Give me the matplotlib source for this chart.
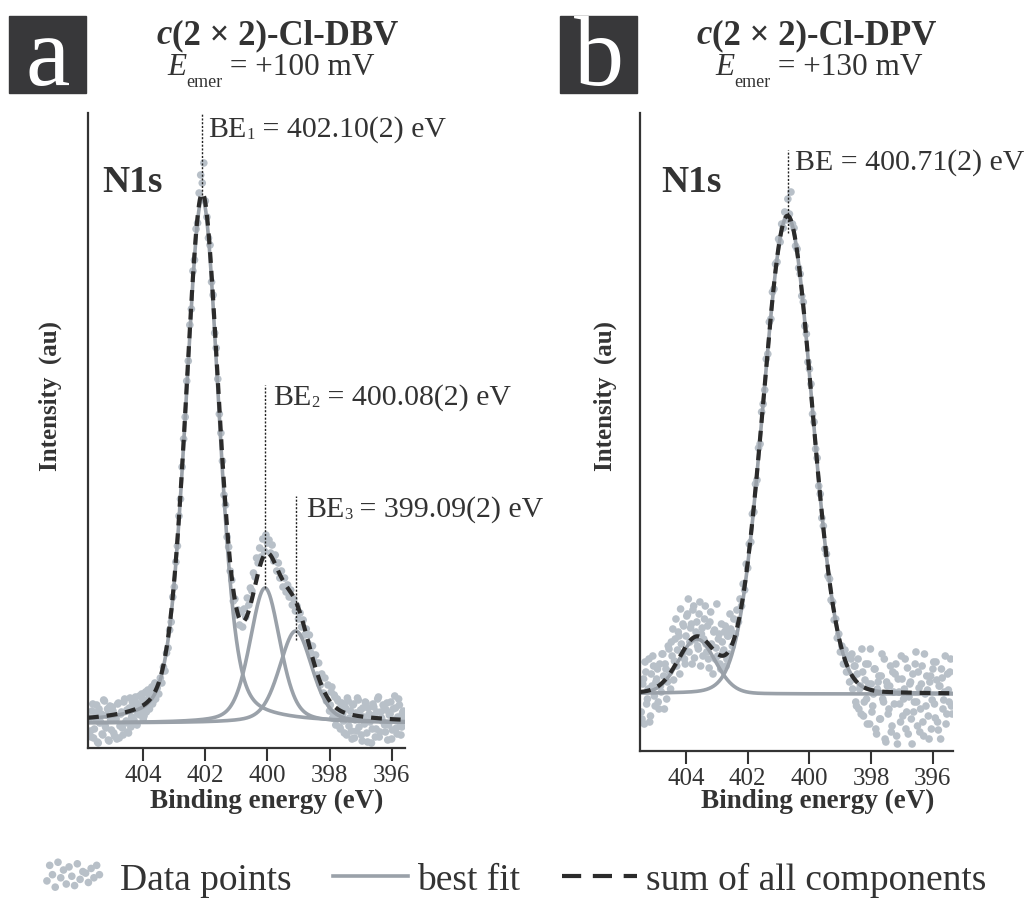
import numpy as np
import matplotlib.pyplot as plt
from matplotlib.patches import Rectangle
from matplotlib.lines import Line2D

plt.rcParams['font.family'] = ['Liberation Serif', 'DejaVu Serif']

# ---- panel a : c(2x2)-Cl-DBV, N1s (intensity in arbitrary units, 0 = fit baseline)
int_a = [
    -8, 12, -15, 5, 18, -20, 0, 9, -12, 22,
    -5, 14, -18, 3, 16, -10, 7, -16, 20, -3,
    11, -12, 24, 2, -9, 15, -4, 21, 3, 26,
    -2, 18, 8, 29, 4, 22, 11, 33, 14, 30,
    19, 38, 24, 35, 29, 45, 40, 56, 52, 70,
    75, 93, 101, 126, 136, 161, 177, 207, 224, 256,
    284, 306, 342, 362, 398, 414, 452, 463, 494, 500,
    530, 548, 540, 560, 522, 506, 485, 478, 441, 428,
    390, 375, 344, 309, 290, 262, 228, 218, 186, 176,
    152, 143, 122, 124, 108, 113, 98, 111, 96, 114,
    106, 125, 118, 135, 132, 150, 146, 165, 160, 175,
    166, 184, 172, 188, 180, 183, 170, 178, 162, 168,
    152, 160, 145, 152, 136, 145, 131, 138, 126, 133,
    118, 124, 112, 117, 104, 110, 96, 103, 88, 94,
    80, 88, 70, 77, 62, 68, 48, 60, 38, 49,
    30, 45, 22, 38, 12, 31, 5, 28, -2, 24,
    8, -6, 20, 2, 16, -12, 22, 5, -8, 18,
    -15, 10, 25, -4, 13, -18, 6, 21, -10, 15,
    1, -20, 19, 8, -6, 24, -14, 11, 2, 17,
    -9, 20, -2, 9, -16, 14, 27, -5, 6, 18,
    -12, 10, 2,
]
be_a = np.linspace(405.70, 395.60, len(int_a))  # 0.05 eV steps

# second sweep, only recorded in the flat regions
int_a_left = [
    5, -14, 19, -6, 10, -19, 14, 1, -11, 23,
    -3, 8, -17, 17, -7, 12, -13, 4, 19, -15,
    9, -5, 21, 0, 13, -10, 25, 6, 16, -1,
    20, 9, 27, 12, 24, 7, 31, 15, 28, 20,
    36, 22, 40, 31,
]
be_a_left = np.linspace(405.725, 403.575, len(int_a_left))
int_a_right = [
    18, 36, 10, 26, 4, 22, -4, 17, 9, -10,
    14, 25, -3, 12, -16, 19, 3, -8, 23, 7,
    -12, 15, -1, 20, -19, 9, 4, -6, 16, -14,
    11, 26, -9, 5, 18, -2, 13, -17, 8, 21,
    -7, 3, 15, -11, 24, 0, -4, 12, 6,
]
be_a_right = np.linspace(397.975, 395.575, len(int_a_right))

peak_a_be = [402.10, 400.08, 399.09]
peak_a_height = [525, 135, 92]
peak_a_fwhm = [1.26, 1.15, 1.25]
peak_a_eta = [0.30, 0.35, 0.35]
be_text_a = ['402.10(2)', '400.08(2)', '399.09(2)']

# ---- panel b : c(2x2)-Cl-DPV, N1s
int_b = [
    -18, 10, -30, 22, -5, 35, -22, 8, 28, -12,
    15, -8, 30, 2, 40, -15, 25, 12, 45, 5,
    38, 14, 55, 28, 62, 20, 50, 70, 35, 58,
    80, 42, 66, 30, 88, 54, 72, 45, 92, 60,
    38, 75, 50, 68, 26, 82, 48, 62, 35, 90,
    55, 30, 70, 42, 62, 28, 58, 40, 65, 48,
    75, 60, 84, 72, 95, 88, 110, 104, 130, 126,
    150, 152, 180, 182, 210, 214, 246, 250, 282, 290,
    304, 335, 340, 372, 375, 402, 405, 430, 432, 455,
    452, 470, 466, 482, 474, 495, 480, 502, 470, 466,
    448, 445, 426, 420, 398, 392, 368, 360, 332, 325,
    310, 280, 272, 245, 236, 208, 200, 176, 168, 145,
    140, 118, 115, 94, 92, 74, 75, 56, 60, 42,
    48, 30, 44, 22, 38, 12, 35, 5, 28, -8,
    20, -15, 8, 45, -22, 14, -5, 30, -30, 10,
    -12, 25, -35, 5, 18, -25, 40, -8, -45, 12,
    -20, 8, -38, 22, -10, 30, -50, 2, -28, 15,
    -5, 35, -18, -40, 10, -25, 20, -8, 42, -32,
    6, -15, 28, -42, 0, 18, -22, 12, -35, 25,
    -10, 32, -28, 8, -45, 16, -6, 38, -20, 4,
    22, -12,
]
be_b = np.linspace(405.45, 395.40, len(int_b))

int_b_left = [
    -25, 15, 32, -10, 5, -28, 20, 38, -2, 12,
    25, -15, 8, 40, 18, 30, -5, 48, 22, 52,
    65, 33, 75, 44, 58, 85, 40, 68, 30, 78,
    95, 52, 70, 84, 36, 62, 48, 80, 28, 66,
    55, 88, 42, 35, 72, 50, 20, 64, 46, 38,
    60, 25, 52, 44, 68, 35, 58, 80, 62,
]
be_b_left = np.linspace(405.425, 402.525, len(int_b_left))
int_b_right = [
    40, 15, 28, -12, 35, 5, -20, 22, -8, 30,
    -30, 10, 45, -18, 0, 25, -40, 12, -25, 18,
    -5, 35, -48, 8, -15, 28, -32, 2, 20, -42,
    15, -10, 38, -22, 5, -35, 26, -3, 12, -50,
    -18, 30, -8, 22, -38, 10, -28, 40, -12, 4,
    -45, 18, -6, 32, -24, 14, -36, 8, 25, -15,
    2, -30, 20, -8, 35, -20,
]
be_b_right = np.linspace(398.625, 395.375, len(int_b_right))

peak_b_be = [400.71, 403.65]
peak_b_height = [478, 55]
peak_b_fwhm = [1.87, 1.40]
peak_b_eta = [0.05, 0.10]

ticks = [404, 402, 400, 398, 396]

c_pts = '#b8c0c8'
c_fit = '#9aa1a9'
c_sum = '#2b2b2b'
c_txt = '#333333'
dash = (0, (2.6, 1.9))


def pvoigt(x, c, h, w, eta):
    g = np.exp(-4 * np.log(2) * (x - c) ** 2 / w ** 2)
    l = 1 / (1 + 4 * (x - c) ** 2 / w ** 2)
    return h * ((1 - eta) * g + eta * l)


W, H = 1029, 898
fig = plt.figure(figsize=(W / 100, H / 100), dpi=100)


def fx(x):
    return x / W


def fy(y):
    return 1 - y / H


def rich(x, y, pieces, ha='left'):
    # pieces: (string, text kwargs, baseline shift in px downwards)
    r = fig.canvas.get_renderer()
    placed = []
    cur = 0.0
    for s, kw, dy in pieces:
        t = fig.text(0, 0, s, va='baseline', ha='left', color=c_txt, **kw)
        placed.append((t, cur, dy))
        cur += t.get_window_extent(r).width
    x0 = x - cur / 2 if ha == 'center' else x
    for t, off, dy in placed:
        t.set_position((fx(x0 + off), fy(y + dy)))


def panel(rect, scans, cen, hgt, fwhm, eta, xlim, ylim):
    ax = fig.add_axes(rect)
    for be, inten in scans:
        ax.scatter(be, inten, s=30, color=c_pts, edgecolors='none', zorder=1)
    xx = np.linspace(xlim[0], xlim[1], 800)
    total = np.zeros_like(xx)
    for c, h, w, e in zip(cen, hgt, fwhm, eta):
        y = pvoigt(xx, c, h, w, e)
        total += y
        ax.plot(xx, y, color=c_fit, lw=2.6, zorder=2)
    ax.plot(xx, total, color=c_sum, lw=3.0, ls=dash, zorder=3)
    ax.set_xlim(*xlim)
    ax.set_ylim(*ylim)
    ax.set_xticks(ticks)
    ax.set_yticks([])
    for s in ['top', 'right']:
        ax.spines[s].set_visible(False)
    for s in ['left', 'bottom']:
        ax.spines[s].set_color(c_txt)
        ax.spines[s].set_linewidth(1.6)
    ax.tick_params(axis='x', direction='out', length=9, width=1.5, color=c_txt,
                   labelsize=18, labelcolor=c_txt, pad=3)
    return ax


ax_a = panel([fx(88), fy(748), 317 / W, 635 / H],
             [(be_a, int_a), (be_a_left, int_a_left), (be_a_right, int_a_right)],
             peak_a_be, peak_a_height, peak_a_fwhm, peak_a_eta,
             (405.78, 395.57), (-25, 610))
ax_b = panel([fx(640), fy(751), 313 / W, 638 / H],
             [(be_b, int_b), (be_b_left, int_b_left), (be_b_right, int_b_right)],
             peak_b_be, peak_b_height, peak_b_fwhm, peak_b_eta,
             (405.49, 395.35), (-57, 581))

# peak position markers
dot = dict(color='#222222', lw=1.0, ls=(0, (1.5, 1.2)), clip_on=False, zorder=4)
ax_a.plot([peak_a_be[0]] * 2, [528, 610], **dot)
ax_a.plot([peak_a_be[1]] * 2, [135, 338], **dot)
ax_a.plot([peak_a_be[2]] * 2, [83, 227], **dot)
ax_b.plot([peak_b_be[0]] * 2, [461, 544], **dot)

big = dict(fontsize=21.5)
sub = dict(fontsize=12)
for (x, y), n, v in zip([(208, 137), (273, 405), (306, 517)], ['1', '2', '3'], be_text_a):
    rich(x, y, [('BE', big, 0), (n, sub, 2), (' = ' + v + ' eV', big, 0)])
rich(795, 170, [('BE = 400.71(2) eV', big, 0)])

for ax, xo in [(ax_a, 0.044), (ax_b, 0.067)]:
    ax.text(xo, 0.876, 'N1s', transform=ax.transAxes, fontsize=27,
            fontweight='bold', color=c_txt, va='baseline', ha='left')

# axis labels
for x in [50, 605]:
    fig.text(fx(x), fy(396), 'Intensity  (au)', rotation=90, fontsize=18,
             fontweight='bold', color=c_txt, ha='center', va='center')
for x in [267, 818]:
    fig.text(fx(x), fy(808), 'Binding energy (eV)', fontsize=19.5,
             fontweight='bold', color=c_txt, ha='center', va='baseline')

# titles
tb = dict(fontsize=25, fontweight='bold')
tbi = dict(fontsize=25, fontweight='bold', style='italic')
ei = dict(fontsize=22.5, style='italic')
er = dict(fontsize=22.5)
es = dict(fontsize=13)
rich(277, 44, [('c', tbi, 0), ('(2 × 2)-Cl-DBV', tb, 0)], ha='center')
rich(271, 75, [('E', ei, 0), ('emer', es, 12), (' = +100 mV', er, 0)], ha='center')
rich(816, 44, [('c', tbi, 0), ('(2 × 2)-Cl-DPV', tb, 0)], ha='center')
rich(819, 75, [('E', ei, 0), ('emer', es, 12), (' = +130 mV', er, 0)], ha='center')

# panel letters
for x0, letter in [(9, 'a'), (560, 'b')]:
    fig.patches.append(Rectangle((fx(x0), fy(93)), 77 / W, 77 / H,
                                 transform=fig.transFigure, color='#38383a'))
    fig.text(fx(x0 + 38.5), fy(85), letter, fontsize=72, color='white',
             ha='center', va='baseline')

# legend
sc_proxy = ax_a.collections[0]
line_proxy = Line2D([], [], color=c_fit, lw=2.6)
dash_proxy = Line2D([], [], color=c_sum, lw=3.0, ls=(0, (4.6, 2.8)))
fig.legend([sc_proxy, line_proxy, dash_proxy],
           ['Data points', 'best fit', 'sum of all components'],
           loc='center', bbox_to_anchor=(fx(511), fy(880)), ncol=3,
           frameon=False, fontsize=27, labelcolor=c_txt,
           scatterpoints=20,
           scatteryoffsets=[0.3, 0.8, 0.5, 0.1, 0.9, 0.4, 0.65, 0.2, 0.75, 0.45,
                            0.15, 0.85, 0.35, 0.6, 0.55, 0.25, 0.7, 0.4, 0.8, 0.5],
           handlelength=2.0, handleheight=0.9, handletextpad=0.25,
           columnspacing=1.1)

fig.savefig('out.png', dpi=100)
